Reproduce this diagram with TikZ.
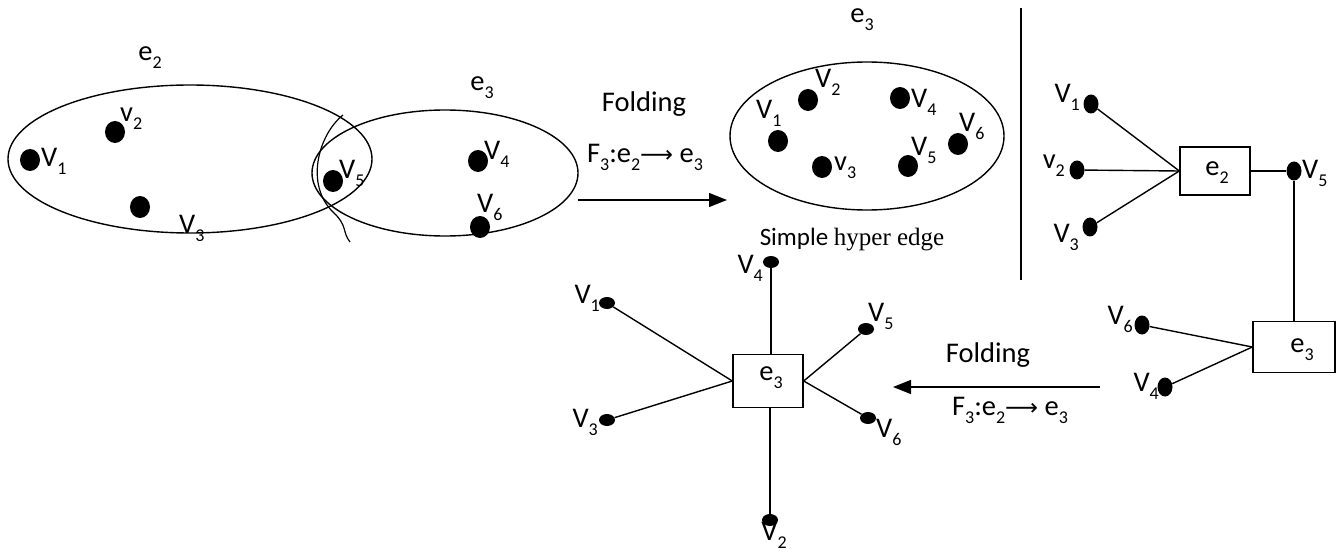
\documentclass[tikz,border=0pt]{standalone}
\usepackage{fontspec}
\setmainfont{Carlito}
\newfontfamily\djv{DejaVu Sans}
\newfontfamily\tms{Liberation Serif}
\usetikzlibrary{shapes.geometric,arrows.meta}
\newcommand{\lsub}[1]{\raisebox{-0.28em}{\fontsize{18}{18}\selectfont #1}}
\newcommand{\larr}{{\djv\fontsize{23}{23}\selectfont ⟶}}
\begin{document}
\begin{tikzpicture}[x=1pt,y=-1pt,
 lab/.style={inner sep=0pt,font=\fontsize{28.5}{30}\selectfont},
 bigdot/.style={ellipse,fill=black,inner sep=0pt,minimum width=20,minimum height=22},
 meddot/.style={ellipse,fill=black,inner sep=0pt,minimum width=15,minimum height=19},
 smalldot/.style={ellipse,fill=black,inner sep=0pt,minimum width=16,minimum height=12},
 hedge/.style={ellipse,draw,line width=1.4pt,inner sep=0pt},
 hbox/.style={rectangle,draw,line width=1.4pt,inner sep=0pt},
 conn/.style={line width=1.4pt},
 arr/.style={line width=1.4pt,-{Triangle[length=18pt,width=14pt]}}]
\useasboundingbox (0,0) rectangle (1340,553);

% ---- left: two overlapping hyperedges
\node[lab] (le2) at (150,58) {e\lsub{2}};
\node[hedge,minimum width=364,minimum height=148] (E2) at (190,159) {};
\node[lab] (le3) at (482,88) {e\lsub{3}};
\node[hedge,minimum width=266,minimum height=126] (E3) at (445,173) {};
\node[bigdot] (a1) at (30,160) {};
\node[lab,anchor=west] (la1) at (41,161) {V\lsub{1}};
\node[bigdot] (a2) at (115,132) {};
\node[lab,anchor=west] (la2) at (120,119) {v\lsub{2}};
\node[bigdot] (a3) at (140,207) {};
\node[lab,anchor=west] (la3) at (179,228) {V\lsub{3}};
\node[bigdot] (a5) at (333,181) {};
\node[lab,anchor=west] (la5) at (339,173) {V\lsub{5}};
\node[bigdot] (a4) at (478,161) {};
\node[lab,anchor=west] (la4) at (484,154) {V\lsub{4}};
\node[bigdot] (a6) at (480,227) {};
\node[lab,anchor=west] (la6) at (477,207) {V\lsub{6}};
\draw[line width=1.2pt] (343,115) .. controls (318,135) and (305,185) .. (333,212)
  .. controls (348,226) and (342,232) .. (350,242);

% ---- top arrow
\coordinate (t1) at (578,200);
\coordinate (t2) at (727,200);
\draw[arr] (t1) -- (t2);
\node[lab] (tf) at (644,104) {Folding};
\node[lab] (tm) at (645,157) {F\lsub{3}:e\lsub{2}\larr\ e\lsub{3}};

% ---- middle: simple hyperedge
\node[lab] (me3) at (862,20) {e\lsub{3}};
\node[hedge,minimum width=274,minimum height=148] (M) at (867,136) {};
\node[bigdot] (m1) at (778,141) {};
\node[lab,anchor=west] (lm1) at (756,113) {V\lsub{1}};
\node[bigdot] (m2) at (808,100) {};
\node[lab,anchor=west] (lm2) at (815,82) {V\lsub{2}};
\node[bigdot] (m3) at (822,167) {};
\node[lab,anchor=west] (lm3) at (834,168) {v\lsub{3}};
\node[bigdot] (m4) at (900,98) {};
\node[lab,anchor=west] (lm4) at (911,102) {V\lsub{4}};
\node[bigdot] (m5) at (908,166) {};
\node[lab,anchor=west] (lm5) at (911,150) {V\lsub{5}};
\node[bigdot] (m6) at (958,144) {};
\node[lab,anchor=west] (lm6) at (959,126) {V\lsub{6}};
\node[inner sep=0pt,font=\fontsize{25}{27}\selectfont] (ms) at (852,240) {Simple {\tms hyper edge}};

\coordinate (vt) at (1021,8);
\coordinate (vb) at (1021,280);
\draw[conn] (vt) -- (vb);

% ---- right: incidence graph
\node[hbox,minimum width=70,minimum height=48] (rE2) at (1215,171) {};
\node[lab] (lrE2) at (1217,173) {e\lsub{2}};
\node[meddot] (r1) at (1091,104) {};
\node[lab,anchor=east] (lr1) at (1080,97) {V\lsub{1}};
\node[meddot] (r2) at (1077,170) {};
\node[lab,anchor=east] (lr2) at (1065,166) {v\lsub{2}};
\node[meddot] (r3) at (1090,227) {};
\node[lab,anchor=east] (lr3) at (1079,237) {V\lsub{3}};
\draw[conn] (r1) -- (rE2.west);
\draw[conn] (r2) -- (rE2.west);
\draw[conn] (r3) -- (rE2.west);
\node[meddot] (r5) at (1294,171) {};
\node[lab,anchor=west] (lr5) at (1302,173) {V\lsub{5}};
\draw[conn] (rE2.east) -- (r5);
\node[hbox,minimum width=82,minimum height=51] (rE3) at (1294,347) {};
\node[lab] (lrE3) at (1302,350) {e\lsub{3}};
\draw[conn] (r5) -- (rE3.north);
\node[meddot] (r6) at (1142,325) {};
\node[lab,anchor=east] (lr6) at (1133,319) {V\lsub{6}};
\node[meddot] (r4) at (1165,387) {};
\node[lab,anchor=east] (lr4) at (1159,386) {V\lsub{4}};
\draw[conn] (r6) -- (rE3.west);
\draw[conn] (r4) -- (rE3.west);

% ---- bottom arrow
\coordinate (b1) at (1100,387);
\coordinate (b2) at (893,387);
\draw[arr] (b1) -- (b2);
\node[lab] (bf) at (988,355) {Folding};
\node[lab] (bm) at (1010,410) {F\lsub{3}:e\lsub{2}\larr\ e\lsub{3}};

% ---- bottom: star
\node[hbox,minimum width=70,minimum height=53] (sE) at (768,381) {};
\node[lab] (lsE) at (771,378) {e\lsub{3}};
\node[smalldot] (s4) at (771,262) {};
\node[lab,anchor=east] (ls4) at (763,268) {V\lsub{4}};
\draw[conn] (s4) -- (s4 |- sE.north);
\node[smalldot] (s1) at (607,303) {};
\node[lab,anchor=east] (ls1) at (600,298) {V\lsub{1}};
\draw[conn] (s1) -- (sE.west);
\node[smalldot] (s3) at (607,420) {};
\node[lab,anchor=east] (ls3) at (598,422) {V\lsub{3}};
\draw[conn] (s3) -- (sE.west);
\node[smalldot] (s5) at (866,329) {};
\node[lab,anchor=west] (ls5) at (868,316) {V\lsub{5}};
\draw[conn] (s5) -- (sE.east);
\node[smalldot] (s6) at (868,418) {};
\node[lab,anchor=west] (ls6) at (876,432) {V\lsub{6}};
\draw[conn] (s6) -- (sE.east);
\node[smalldot] (s2) at (770,520) {};
\node[lab,anchor=north] (ls2) at (774,522) {V\lsub{2}};
\draw[conn] (s2) -- (s2 |- sE.south);
\end{tikzpicture}
\end{document}
